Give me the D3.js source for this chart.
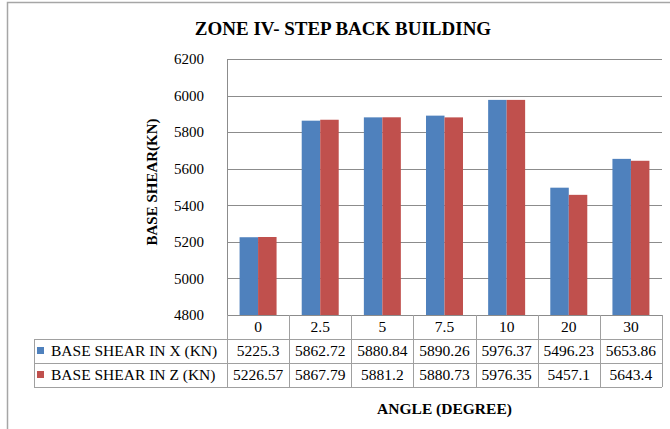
<!DOCTYPE html>
<html>
<head>
<meta charset="utf-8">
<script src="https://cdn.jsdelivr.net/npm/d3@7"></script>
<style>
  body { margin: 0; background: #fff; }
  svg text { font-family: "Liberation Serif", Tinos, "Times New Roman", Times, "DejaVu Serif", serif; fill: #000; }
</style>
</head>
<body>
<div class="chart"></div>
<script>
(function () {
    'use strict';

    // chart data
    const angles = ['0', '2.5', '5', '7.5', '10', '20', '30'];
    const seriesNames = ['BASE SHEAR IN X (KN)', 'BASE SHEAR IN Z (KN)'];
    const shearX = [5225.3, 5862.72, 5880.84, 5890.26, 5976.37, 5496.23, 5653.86];
    const shearZ = [5226.57, 5867.79, 5881.2, 5880.73, 5976.35, 5457.1, 5643.4];
    const yTicks = [4800, 5000, 5200, 5400, 5600, 5800, 6000, 6200];
    const colors = ['#4F81BD', '#C0504D'];

    const series = [shearX, shearZ];
    const serif = '"Liberation Serif", Tinos, "Times New Roman", Times, "DejaVu Serif", serif';

    const width = 670;
    const height = 429;
    const margin = { top: 59, left: 227, right: 8, bottom: 114 };
    const rowH = 24;
    const tableLeft = 34;

    const svg = d3.select('.chart').append('svg')
        .attr('width', width)
        .attr('height', height)
        .attr('font-family', serif);

    // outer chart frame
    svg.append('rect')
        .attr('x', 7.5).attr('y', 2.5)
        .attr('width', 700).attr('height', 500)
        .attr('fill', 'none')
        .attr('stroke', '#a6a6a6')
        .attr('stroke-width', 1.5);

    const plotBottom = height - margin.bottom;
    const plotRight = width - margin.right;

    const x0 = d3.scaleBand().domain(angles)
        .range([margin.left, plotRight])
        .padding(0);

    const x1 = d3.scaleBand().domain(d3.range(series.length))
        .range([0, x0.bandwidth()])
        .paddingInner(0)
        .paddingOuter(0.68);

    const y = d3.scaleLinear().domain([4800, 6200])
        .range([plotBottom, margin.top]);

    // gridlines
    svg.append('g').selectAll('line')
        .data(yTicks.slice(1))
        .enter().append('line')
        .attr('x1', margin.left).attr('x2', plotRight)
        .attr('y1', function (d) { return Math.round(y(d)) + 0.5; })
        .attr('y2', function (d) { return Math.round(y(d)) + 0.5; })
        .attr('stroke', '#8c8c8c')
        .attr('stroke-width', 1);

    // y axis
    const yAxis = d3.axisLeft(y).tickValues(yTicks).tickFormat(d3.format('d'))
        .tickSize(0).tickPadding(0);
    svg.append('g')
        .attr('transform', 'translate(' + (margin.left - 23) + ',0)')
        .call(yAxis)
        .attr('font-family', serif)
        .call(function (g) { g.select('.domain').remove(); })
        .call(function (g) {
            g.selectAll('text')
                .style('font-family', serif)
                .style('font-size', '15px')
                .attr('fill', '#000');
        });

    svg.append('line')
        .attr('x1', margin.left + 0.5).attr('x2', margin.left + 0.5)
        .attr('y1', margin.top).attr('y2', plotBottom)
        .attr('stroke', '#8c8c8c');

    // bars
    const groups = svg.append('g').selectAll('g')
        .data(angles)
        .enter().append('g')
        .attr('transform', function (d) { return 'translate(' + x0(d) + ',0)'; });

    groups.selectAll('rect')
        .data(function (d, i) {
            return series.map(function (s, k) { return { k: k, v: s[i] }; });
        })
        .enter().append('rect')
        .attr('x', function (d) { return x1(d.k); })
        .attr('width', x1.bandwidth())
        .attr('y', function (d) { return y(d.v); })
        .attr('height', function (d) { return plotBottom - y(d.v); })
        .attr('fill', function (d) { return colors[d.k]; });

    // data table
    const table = svg.append('g');
    const lineColor = '#a0a0a0';

    // horizontal rules
    table.append('line')
        .attr('x1', margin.left).attr('x2', plotRight)
        .attr('y1', plotBottom + 0.5).attr('y2', plotBottom + 0.5)
        .attr('stroke', '#8c8c8c');
    [1, 2, 3].forEach(function (r) {
        table.append('line')
            .attr('x1', tableLeft).attr('x2', plotRight)
            .attr('y1', plotBottom + r * rowH + 0.5).attr('y2', plotBottom + r * rowH + 0.5)
            .attr('stroke', lineColor);
    });

    // vertical rules
    const bounds = angles.map(function (a) { return x0(a); }).concat([plotRight]);
    table.selectAll('.vline')
        .data(bounds)
        .enter().append('line')
        .attr('class', 'vline')
        .attr('x1', function (d) { return Math.round(d) + 0.5; })
        .attr('x2', function (d) { return Math.round(d) + 0.5; })
        .attr('y1', plotBottom).attr('y2', plotBottom + 3 * rowH)
        .attr('stroke', lineColor);
    table.append('line')
        .attr('x1', tableLeft + 0.5).attr('x2', tableLeft + 0.5)
        .attr('y1', plotBottom + rowH).attr('y2', plotBottom + 3 * rowH)
        .attr('stroke', lineColor);

    // header row
    table.selectAll('.head')
        .data(angles)
        .enter().append('text')
        .attr('class', 'head')
        .attr('x', function (d) { return x0(d) + x0.bandwidth() / 2; })
        .attr('y', plotBottom + rowH / 2)
        .attr('dy', '0.35em')
        .attr('text-anchor', 'middle')
        .style('font-size', '15.5px')
        .text(function (d) { return d; });

    // value rows
    series.forEach(function (s, k) {
        const rowY = plotBottom + (k + 1) * rowH + rowH / 2;

        table.append('rect')
            .attr('x', tableLeft + 3).attr('y', rowY - 4)
            .attr('width', 7).attr('height', 7)
            .attr('fill', colors[k]);

        table.append('text')
            .attr('x', tableLeft + 17)
            .attr('y', rowY)
            .attr('dy', '0.35em')
            .style('font-size', '15.5px')
            .text(seriesNames[k]);

        table.selectAll('.v' + k)
            .data(s)
            .enter().append('text')
            .attr('class', 'v' + k)
            .attr('x', function (d, i) { return x0(angles[i]) + x0.bandwidth() / 2; })
            .attr('y', rowY)
            .attr('dy', '0.35em')
            .attr('text-anchor', 'middle')
            .style('font-size', '15.5px')
            .text(function (d) { return d; });
    });

    // titles
    svg.append('text')
        .attr('x', 343).attr('y', 35)
        .attr('text-anchor', 'middle')
        .style('font-size', '19px')
        .style('font-weight', 'bold')
        .text('ZONE IV- STEP BACK BUILDING');

    svg.append('text')
        .attr('transform', 'translate(157,' + 182 + ') rotate(-90)')
        .attr('text-anchor', 'middle')
        .style('font-size', '15px')
        .style('font-weight', 'bold')
        .text('BASE SHEAR(KN)');

    svg.append('text')
        .attr('x', (margin.left + plotRight) / 2).attr('y', 414)
        .attr('text-anchor', 'middle')
        .style('font-size', '15.5px')
        .style('font-weight', 'bold')
        .text('ANGLE (DEGREE)');
}());
</script>
</body>
</html>
